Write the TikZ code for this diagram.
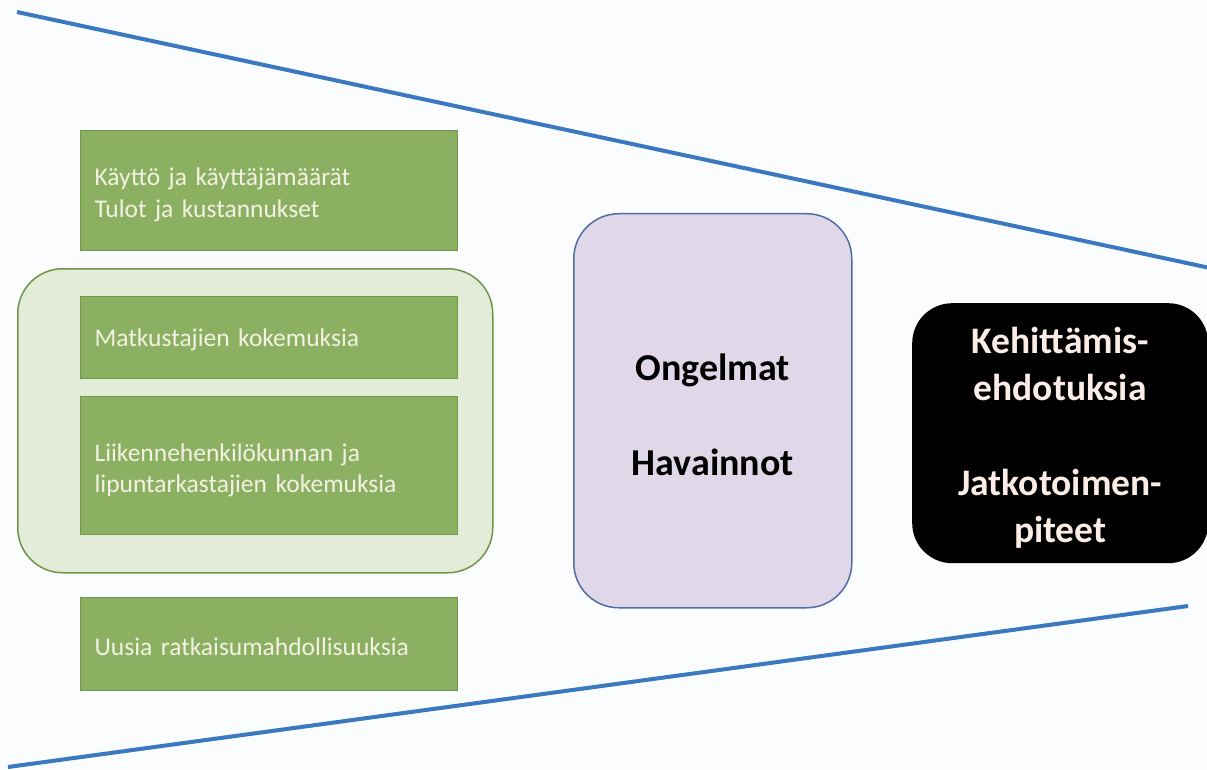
\documentclass[tikz,border=0pt]{standalone}
\usepackage{fontspec}
\setmainfont{Carlito}
\definecolor{bg}{HTML}{FBFCFE}
\definecolor{funnel}{HTML}{3A78C0}
\definecolor{boxgreen}{HTML}{8BB062}
\definecolor{boxedge}{HTML}{6F9A47}
\definecolor{boxtext}{HTML}{F4F1E4}
\definecolor{groupfill}{HTML}{E3EBD9}
\definecolor{groupedge}{HTML}{6E9445}
\definecolor{probfill}{HTML}{E0D8E8}
\definecolor{probedge}{HTML}{4F6DA3}
\definecolor{outtext}{HTML}{FBEDE6}
% invisible strut that lowers the first line of a label
\newcommand{\lowerby}[1]{\rule{0pt}{#1}}
\tikzset{
  greenbox/.style={draw=boxedge, line width=1.2pt, fill=boxgreen, text=boxtext,
    minimum width=377pt, text width=349pt, align=left, inner xsep=14pt,
    font=\fontsize{25.5}{31.5}\selectfont, anchor=north west},
  funnelline/.style={draw=funnel, line width=4pt},
}
\begin{document}
\begin{tikzpicture}[x=1pt,y=-1pt]
  \fill[bg] (0,0) rectangle (1207,770);
  \useasboundingbox (0,0) rectangle (1207,770);

  % funnel edges
  \coordinate (t1) at (17,12);
  \coordinate (t2) at (1210,268);
  \coordinate (b1) at (8,767);
  \coordinate (b2) at (1188,606);
  \draw[funnelline] (t1) -- (t2);
  \draw[funnelline] (b1) -- (b2);

  % grouping frame
  \node[draw=groupedge, line width=1.5pt, fill=groupfill, rounded corners=45pt,
        minimum width=475pt, minimum height=304pt, anchor=north west]
        (group) at (17,268) {};

  % input boxes
  \node[greenbox, minimum height=120pt] (use) at (80,130)
    {\lowerby{26pt}Käyttö ja käyttäjämäärät\\Tulot ja kustannukset};
  \node[greenbox, minimum height=82pt] (pass) at (80,296)
    {\lowerby{22pt}Matkustajien kokemuksia};
  \node[greenbox, minimum height=138pt] (staff) at (80,396)
    {\lowerby{27pt}Liikennehenkilökunnan ja\\lipuntarkastajien kokemuksia};
  \node[greenbox, minimum height=93pt] (new) at (80,597)
    {\lowerby{22pt}Uusia ratkaisumahdollisuuksia};

  % findings
  \node[draw=probedge, line width=1.5pt, fill=probfill, rounded corners=45pt,
        minimum width=278pt, minimum height=394pt, anchor=north west,
        font=\bfseries\fontsize{38}{95}\selectfont, align=center]
        (prob) at (573,213) {\lowerby{35pt}Ongelmat\\Havainnot};

  % outcomes
  \node[fill=black, rounded corners=40pt, text=outtext,
        minimum width=296pt, minimum height=260pt, anchor=north west,
        font=\bfseries\fontsize{37.5}{47}\selectfont, align=center]
        (out) at (912,303) {\lowerby{36pt}Kehittämis-\\ehdotuksia\\[48pt]Jatkotoimen-\\piteet};
\end{tikzpicture}
\end{document}
